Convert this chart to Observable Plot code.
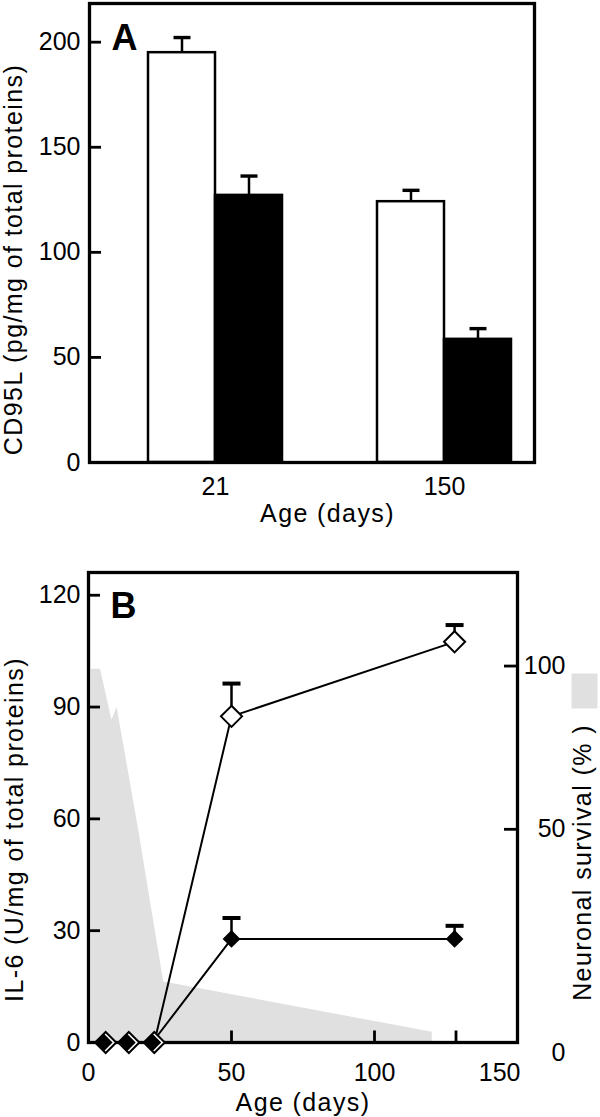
<!DOCTYPE html>
<html><head><meta charset="utf-8">
<script src="https://cdn.jsdelivr.net/npm/d3@7"></script>
<script src="https://cdn.jsdelivr.net/npm/@observablehq/plot@0.6"></script>
<style>
body{margin:0;background:#fff;}
#chart svg{display:block;overflow:visible;}
g[aria-label="text"] text{letter-spacing:1.4px;}
</style></head><body><div id="chart"></div>
<script>
// ---------- Panel A : CD95L ----------
const agesA = ["21", "150"];
const openA = [195.0, 124.1];
const openErrA = [7.2, 5.4];
const filledA = [127.1, 58.6];
const filledErrA = [9.2, 5.1];
const yTicksA = [0, 50, 100, 150, 200];

// ---------- Panel B : IL-6 and neuronal survival ----------
const daysOpenB = [6.0, 14.1, 23.0, 50, 128];
const il6OpenB = [0, 0, 0, 87.5, 107.5];
const il6OpenErrB = [null, null, null, 8.8, 4.5];
const daysFilledB = [5.3, 13.4, 22.3, 50, 128];
const il6FilledB = [0, 0, 0, 27.8, 27.8];
const il6FilledErrB = [null, null, null, 5.6, 3.5];
const survivalDays = [1, 4.2, 8.2, 10, 17.5, 26.3, 120.2];
const survivalPct = [99, 99, 83.4, 87.4, 50, 14.2, 2.4];
const yTicksB = [0, 30, 60, 90, 120];
const xLabelsB = [0, 50, 100];
const xLastLabelB = [150];
const xTickMarksB = [50, 100, 128.5];
const survivalTicks = [0, 50, 100];
const survivalTickAt = [0, 57.2, 101.0]; // where the printed survival ticks sit on the IL-6 scale

const GRAY = "#e0e0e0";
const FONT = "'Liberation Sans', Arial, Helvetica, sans-serif";
const capSym = (w, h) => ({draw(ctx) { ctx.rect(-w / 2, -h / 2, w, h); }});

const rowsOpenA = agesA.map((a, i) => ({age: a, value: openA[i], err: openErrA[i]}));
const rowsFilledA = agesA.map((a, i) => ({age: a, value: filledA[i], err: filledErrA[i]}));

const half = 67;
const plotA = Plot.plot({
  width: 600, height: 540,
  marginTop: 3, marginBottom: 78, marginLeft: 89, marginRight: 66,
  style: {fontFamily: FONT, fontSize: "25px", color: "black", background: "white"},
  x: {type: "band", domain: agesA, paddingInner: 0.415, paddingOuter: 0.179, align: 0.72},
  y: {domain: [0, 218.4]},
  marks: [
    Plot.barY(rowsOpenA, {x: "age", y: "value", fill: "white", stroke: "black", strokeWidth: 2.5, insetRight: half}),
    Plot.barY(rowsFilledA, {x: "age", y: "value", fill: "black", stroke: "black", strokeWidth: 2.5, insetLeft: half}),
    Plot.ruleX(rowsOpenA, {x: "age", y1: "value", y2: d => d.value + d.err, dx: -half / 2, strokeWidth: 2.5}),
    Plot.ruleX(rowsFilledA, {x: "age", y1: "value", y2: d => d.value + d.err, dx: half / 2, strokeWidth: 2.5}),
    Plot.dot(rowsOpenA, {x: "age", y: d => d.value + d.err, dx: -half / 2, symbol: capSym(17, 3.4), fill: "black", stroke: "none"}),
    Plot.dot(rowsFilledA, {x: "age", y: d => d.value + d.err, dx: half / 2, symbol: capSym(17, 3.4), fill: "black", stroke: "none"}),
    Plot.frame({stroke: "black", strokeWidth: 3.3}),
    Plot.axisY(yTicksA, {tickSize: -12, strokeWidth: 2.8, tickFormat: () => "", label: null}),
    Plot.axisY(yTicksA, {tickSize: 0, tickPadding: 9, label: null}),
    Plot.axisX({tickSize: 0, tickPadding: 15, label: null}),
    Plot.text(["A"], {text: d => d, frameAnchor: "top-left", dx: 22, dy: 21, textAnchor: "start", lineAnchor: "top", fontSize: 36, fontWeight: "bold"}),
    Plot.text(["CD95L (pg/mg of total proteins)"], {text: d => d, frameAnchor: "left", rotate: -90, dx: -75.5, dy: 26.5, textAnchor: "middle", lineAnchor: "middle", fontSize: 25}),
    Plot.text(["Age (days)"], {text: d => d, frameAnchor: "bottom", dx: 15.5, dy: 51.3, textAnchor: "middle", lineAnchor: "middle", fontSize: 25})
  ]
});

// Panel B
const survMap = d3.scaleLinear().domain(survivalTicks).range(survivalTickAt);
const rowsOpenB = daysOpenB.map((d, i) => ({day: d, il6: il6OpenB[i], err: il6OpenErrB[i]}));
const rowsFilledB = daysFilledB.map((d, i) => ({day: d, il6: il6FilledB[i], err: il6FilledErrB[i]}));
const rowsSurv = survivalDays.map((d, i) => ({day: d, pct: survivalPct[i]}));
const errOpenB = rowsOpenB.filter(d => d.err != null);
const errFilledB = rowsFilledB.filter(d => d.err != null);

const plotB = Plot.plot({
  width: 600, height: 577,
  marginTop: 32, marginBottom: 75, marginLeft: 88, marginRight: 83,
  style: {fontFamily: FONT, fontSize: "25px", color: "black", background: "white"},
  x: {domain: [0, 150]},
  y: {domain: [0, 126.1]},
  marks: [
    Plot.areaY(rowsSurv, {x: "day", y: d => survMap(d.pct), fill: GRAY}),
    Plot.frame({stroke: "black", strokeWidth: 3.3}),
    Plot.axisY(yTicksB, {tickSize: -12, strokeWidth: 2.8, tickFormat: () => "", label: null}),
    Plot.axisY(yTicksB, {tickSize: 0, tickPadding: 8, label: null}),
    Plot.axisX(xTickMarksB, {tickSize: -11.5, strokeWidth: 2.8, tickFormat: () => "", label: null}),
    Plot.axisX(xLabelsB, {tickSize: 0, tickPadding: 21, label: null}),
    Plot.axisX(xLastLabelB, {tickSize: 0, tickPadding: 21, textAnchor: "end", dx: 3, label: null}),
    Plot.axisY(survivalTicks.filter(d => d > 0).map(survMap), {anchor: "right", tickSize: -14, strokeWidth: 2.8, tickFormat: () => "", label: null}),
    Plot.axisY(survivalTicks.filter(d => d > 0).map(survMap), {anchor: "right", tickSize: 0, tickPadding: 48, textAnchor: "end", tickFormat: v => String(Math.round(survMap.invert(v))), label: null}),
    Plot.axisY(survivalTicks.filter(d => d === 0).map(survMap), {anchor: "right", tickSize: 0, tickPadding: 48, textAnchor: "end", dy: 10, tickFormat: v => String(Math.round(survMap.invert(v))), label: null}),
    Plot.line(rowsOpenB, {x: "day", y: "il6", stroke: "black", strokeWidth: 2}),
    Plot.line(rowsFilledB, {x: "day", y: "il6", stroke: "black", strokeWidth: 2}),
    Plot.ruleX(errOpenB, {x: "day", y1: "il6", y2: d => d.il6 + d.err, strokeWidth: 2.5}),
    Plot.ruleX(errFilledB, {x: "day", y1: "il6", y2: d => d.il6 + d.err, strokeWidth: 2.5}),
    Plot.dot(errOpenB, {x: "day", y: d => d.il6 + d.err, symbol: capSym(18, 4), fill: "black", stroke: "none"}),
    Plot.dot(errFilledB, {x: "day", y: d => d.il6 + d.err, symbol: capSym(18, 4), fill: "black", stroke: "none"}),
    Plot.dot(rowsOpenB, {x: "day", y: "il6", symbol: "diamond2", r: 9.5, fill: "white", stroke: "black", strokeWidth: 2}),
    Plot.dot(rowsFilledB, {x: "day", y: "il6", symbol: "diamond2", r: 8, fill: "black", stroke: "none"}),
    Plot.text(["B"], {text: d => d, frameAnchor: "top-left", dx: 22, dy: 20, textAnchor: "start", lineAnchor: "top", fontSize: 36, fontWeight: "bold"}),
    Plot.text(["IL-6 (U/mg of total proteins)"], {text: d => d, frameAnchor: "left", rotate: -90, dx: -74, dy: 22, textAnchor: "middle", lineAnchor: "middle", fontSize: 25}),
    Plot.text(["Neuronal survival (% )"], {text: d => d, frameAnchor: "right", rotate: -90, dx: 65, dy: 55, textAnchor: "middle", lineAnchor: "middle", fontSize: 25}),
    Plot.dot(["Neuronal survival"], {frameAnchor: "right", dx: 67, dy: -116.5, symbol: capSym(26, 35), fill: GRAY, stroke: "none"}),
    Plot.text(["Age (days)"], {text: d => d, frameAnchor: "bottom", dy: 60, textAnchor: "middle", lineAnchor: "middle", fontSize: 25})
  ]
});

const root = document.getElementById("chart");
root.appendChild(plotA);
root.appendChild(plotB);
</script></body></html>
